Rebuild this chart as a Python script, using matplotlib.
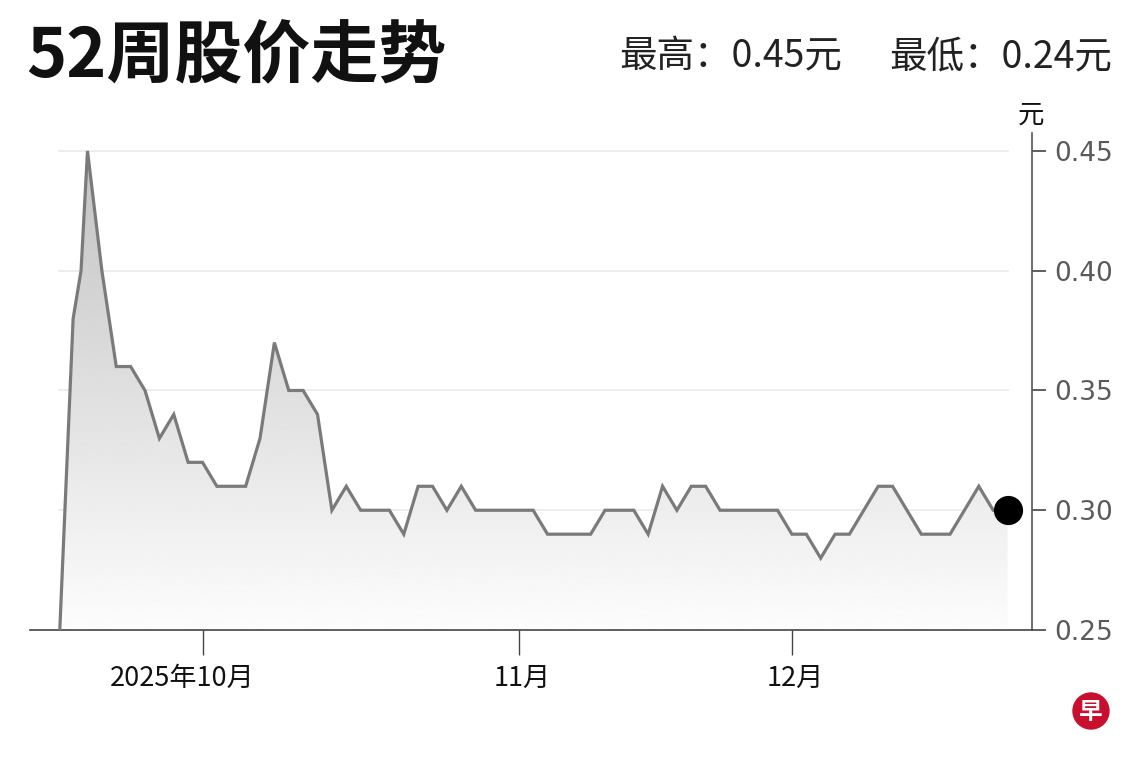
import matplotlib
matplotlib.use("Agg")
import matplotlib.pyplot as plt
import matplotlib.transforms as mtransforms
import numpy as np
from matplotlib.patches import Circle

plt.rcParams['font.family'] = ['Noto Sans CJK SC', 'DejaVu Sans']

# ---- data ----
day_idx = [0, 1, 1.55, 2, 3, 4, 5, 6, 7, 8, 9, 10, 11, 12, 13, 14, 15, 16, 17, 18,
           19, 20, 21, 22, 23, 24, 25, 26, 27, 28, 29, 30, 31, 32, 33, 34, 35, 36,
           37, 38, 39, 40, 41, 42, 43, 44, 45, 46, 47, 48, 49, 50, 51, 52, 53, 54,
           55, 56, 57, 58, 59, 60, 61, 62, 63, 64, 65, 66]
price = [0.24, 0.38, 0.40, 0.45, 0.40, 0.36, 0.36, 0.35, 0.33, 0.34, 0.32, 0.32,
         0.31, 0.31, 0.31, 0.33, 0.37, 0.35, 0.35, 0.34, 0.30, 0.31, 0.30, 0.30,
         0.30, 0.29, 0.31, 0.31, 0.30, 0.31, 0.30, 0.30, 0.30, 0.30, 0.30, 0.29,
         0.29, 0.29, 0.29, 0.30, 0.30, 0.30, 0.29, 0.31, 0.30, 0.31, 0.31, 0.30,
         0.30, 0.30, 0.30, 0.30, 0.29, 0.29, 0.28, 0.29, 0.29, 0.30, 0.31, 0.31,
         0.30, 0.29, 0.29, 0.29, 0.30, 0.31, 0.30, 0.30]
month_tick_idx = [10, 32, 51]
month_labels = ['2025年10月', '11月', '12月']
y_ticks = [0.25, 0.30, 0.35, 0.40, 0.45]
y_labels = ['0.25', '0.30', '0.35', '0.40', '0.45']
title = '52周股价走势'
hi_text = '最高：0.45元'
lo_text = '最低：0.24元'
unit = '元'

# ---- figure ----
W, H = 1140, 760
fig = plt.figure(figsize=(W / 100, H / 100), dpi=100)
fig.patch.set_facecolor('white')
ax = fig.add_axes([30 / W, 1 - 630 / H, (1032 - 30) / W, (630 - 133) / H])
ax.set_facecolor('white')

xmin, xmax = -2.0, 67.7
ymin, ymax = 0.25, 0.4575
ax.set_xlim(xmin, xmax)
ax.set_ylim(ymin, ymax)

x = np.array(day_idx, dtype=float)
y = np.array(price, dtype=float)

# gridlines over the data range
for t in y_ticks[1:]:
    ax.plot([x[0], x[-1]], [t, t], color='#ececec', lw=1.3, zorder=1)

# gradient fill under line
poly = ax.fill_between(x, y, ymin - 0.02, color='none', zorder=2)
grad = np.linspace(0.99, 0.76, 256).reshape(-1, 1)
img = ax.imshow(grad, extent=[x[0], x[-1], ymin, 0.45], origin='lower',
                cmap='gray', vmin=0, vmax=1, aspect='auto', zorder=2)
path = poly.get_paths()[0]
img.set_clip_path(path, transform=ax.transData)
ax.set_xlim(xmin, xmax)
ax.set_ylim(ymin, ymax)

ax.plot(x, y, color='#7a7a7a', lw=2.3, zorder=3, solid_joinstyle='miter')
ax.plot(x[-1], y[-1], 'o', color='black', ms=20, zorder=4, clip_on=False)

# spines
for s in ['left', 'top']:
    ax.spines[s].set_visible(False)
ax.spines['bottom'].set_color('#444444')
ax.spines['bottom'].set_linewidth(1.2)
ax.spines['right'].set_color('#555555')
ax.spines['right'].set_linewidth(1.2)

ax.yaxis.tick_right()
ax.set_yticks(y_ticks)
ax.set_yticklabels(y_labels, family='DejaVu Sans', fontsize=19, color='#5a5a5a')
ax.tick_params(axis='y', direction='out', length=10, width=1.2, color='#444444', pad=6)

ax.set_xticks(month_tick_idx)
ax.set_xticklabels(month_labels, fontsize=19.5, color='#111111')
ax.tick_params(axis='x', direction='out', length=18, width=1.0, color='#444444', pad=7)
# first (year) label sits a little left of its tick, as in the original
first = ax.get_xticklabels()[0]
first.set_transform(first.get_transform() +
                    mtransforms.ScaledTranslation(-20 / 100, 0, fig.dpi_scale_trans))
for lbl in ax.get_xticklabels()[1:]:
    lbl.set_transform(lbl.get_transform() +
                      mtransforms.ScaledTranslation(3 / 100, 0, fig.dpi_scale_trans))

# texts
fig.text(26 / W, 1 - 58 / H, title, fontsize=49, fontweight='bold', color='#111111',
         ha='left', va='center')
fig.text(842 / W, 1 - 57 / H, hi_text, fontsize=27, color='#222222',
         ha='right', va='center')
fig.text(1112 / W, 1 - 57 / H, lo_text, fontsize=27, color='#222222',
         ha='right', va='center')
fig.text(1031 / W, 1 - 115 / H, unit, fontsize=19, color='#111111',
         ha='center', va='center')

# logo
lax = fig.add_axes([0, 0, 1, 1], facecolor='none')
lax.set_xlim(0, W)
lax.set_ylim(H, 0)
lax.axis('off')
lax.add_patch(Circle((1091, 711), 18, color='#c8102e'))
lax.text(1091, 712, '早', fontsize=17, fontweight='bold', color='white',
         ha='center', va='center')

fig.savefig('out.png', dpi=100, facecolor='white')
